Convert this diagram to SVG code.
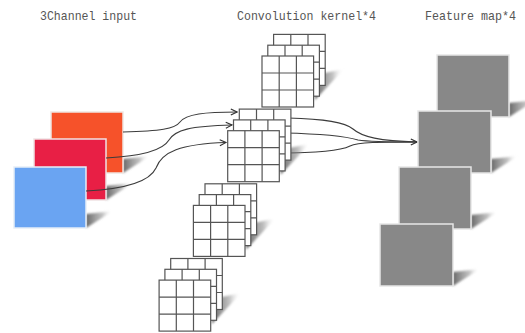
<svg xmlns="http://www.w3.org/2000/svg" xmlns:xlink="http://www.w3.org/1999/xlink" width="525" height="333" viewBox="0 0 525 333">
  <style>
    .title { font-family: "Liberation Mono", "DejaVu Sans Mono", monospace; font-size: 13px; fill: #555555; }
    .cell { fill: #ffffff; stroke: #555555; stroke-width: 1.2; }
    .gl { stroke: #555555; stroke-width: 1.2; fill: none; }
    .edge { fill: none; stroke: #3c3c3c; stroke-width: 1.1; }
    .fmap { fill: #888888; stroke: #e6e6e6; stroke-width: 1.5; }
    .shadow { fill: url(#shadeGrad); filter: url(#soft); }
  </style>
  <defs>
    <linearGradient id="shadeGrad" x1="0" y1="0" x2="1" y2="0">
      <stop offset="0" stop-color="#5e5e5e" stop-opacity="0.95"/>
      <stop offset="0.6" stop-color="#8e8e8e" stop-opacity="0.55"/>
      <stop offset="1" stop-color="#ffffff" stop-opacity="0"/>
    </linearGradient>
    <filter id="soft" x="-20%" y="-30%" width="140%" height="160%">
      <feGaussianBlur stdDeviation="1.1"/>
    </filter>
    <marker id="arrow" viewBox="0 0 8 8" refX="7.2" refY="4" markerWidth="8" markerHeight="8" markerUnits="userSpaceOnUse" orient="auto">
      <path d="M1,1 L7.2,4 L1,7" fill="none" stroke="#333333" stroke-width="1.1"/>
    </marker>
    <!-- one 3x3 kernel slice -->
    <g id="grid">
      <rect class="cell" x="0" y="0" width="51.6" height="51"/>
      <path class="gl" d="M17.2,0 V51 M34.4,0 V51 M0,17 H51.6 M0,34 H51.6"/>
    </g>
    <!-- three stacked slices with a cast shadow -->
    <g id="kstack">
      <polygon class="shadow" points="53,19 82,13 53,44"/>
      <use xlink:href="#grid" x="11.6" y="-21.6"/>
      <use xlink:href="#grid" x="5.8" y="-10.8"/>
      <use xlink:href="#grid" x="0" y="0"/>
    </g>
  </defs>

  <!-- titles -->
  <text class="title" x="40" y="20" textLength="97" lengthAdjust="spacingAndGlyphs">3Channel input</text>
  <text class="title" x="237" y="20" textLength="139" lengthAdjust="spacingAndGlyphs">Convolution kernel*4</text>
  <text class="title" x="425" y="20" textLength="91" lengthAdjust="spacingAndGlyphs">Feature map*4</text>

  <!-- input channels -->
  <g id="input-orange">
    <polygon class="shadow" points="123,159 150,156 123,173"/>
    <rect x="51" y="112" width="72" height="61" fill="#f6522a" stroke="#f0e6e2" stroke-width="1.5"/>
  </g>
  <g id="input-red">
    <polygon class="shadow" points="106,186 133,183 106,200"/>
    <rect x="34" y="139" width="72" height="61" fill="#e81f45" stroke="#f0e2e4" stroke-width="1.5"/>
  </g>
  <g id="input-blue">
    <polygon class="shadow" points="86,214 113,211 86,228"/>
    <rect x="14" y="167" width="72" height="61" fill="#6aa4f2" stroke="#e6eef8" stroke-width="1.5"/>
  </g>

  <!-- connectors -->
  <g id="connectors">
    <path class="edge" marker-end="url(#arrow)" d="M123,132 C160,131 175,129 180,122 C186,114 205,112 237,112"/>
    <path class="edge" marker-end="url(#arrow)" d="M106,158 C145,156 163,150 169,140 C175,130 190,126 232,125"/>
    <path class="edge" marker-end="url(#arrow)" d="M86,191 C125,189 150,181 156,168 C162,152 180,144 226,142.5"/>
    <path class="edge" d="M288,118 C325,119 345,122 353,129 C362,137 380,141 417,142"/>
    <path class="edge" d="M284,133 C330,134 348,137 358,140 C370,142 390,142 417,142"/>
    <path class="edge" marker-end="url(#arrow)" d="M279,153 C320,153 340,151 350,146 C358,142 380,142 417,142"/>
  </g>

  <!-- convolution kernels -->
  <g id="kernel-1"><use xlink:href="#kstack" x="262" y="56"/></g>
  <g id="kernel-2"><use xlink:href="#kstack" x="227.7" y="130.7"/></g>
  <g id="kernel-3"><use xlink:href="#kstack" x="193.4" y="205.4"/></g>
  <g id="kernel-4"><use xlink:href="#kstack" x="159.1" y="280.1"/></g>

  <!-- feature maps -->
  <g id="fmap-1">
    <polygon class="shadow" points="509,103 536,100 509,117"/>
    <rect class="fmap" x="437" y="55" width="72" height="62"/>
  </g>
  <g id="fmap-2">
    <polygon class="shadow" points="491,159 518,156 491,173"/>
    <rect class="fmap" x="418" y="111" width="73" height="62"/>
  </g>
  <g id="fmap-3">
    <polygon class="shadow" points="471,215 498,212 471,229"/>
    <rect class="fmap" x="399" y="167" width="72" height="62"/>
  </g>
  <g id="fmap-4">
    <polygon class="shadow" points="453,272 480,269 453,286"/>
    <rect class="fmap" x="380" y="224" width="73" height="62"/>
  </g>
</svg>
